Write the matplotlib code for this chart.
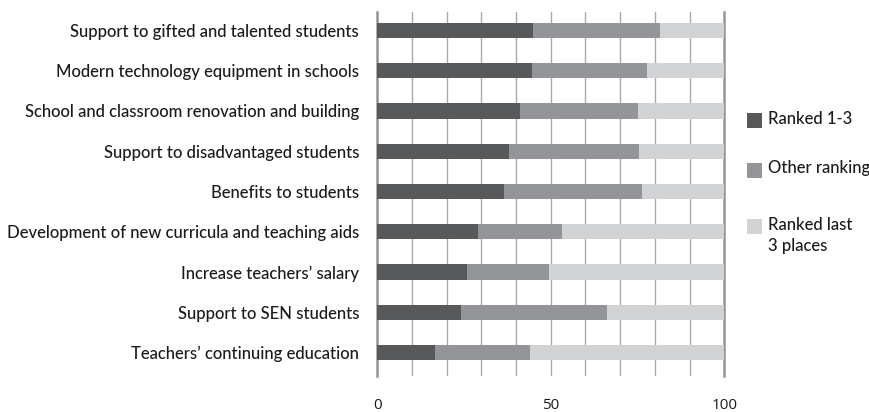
import matplotlib
matplotlib.use("Agg")
import matplotlib.pyplot as plt
from matplotlib.patches import Rectangle

# Share of respondents per ranking group, by spending priority
categories = [
    "Support to gifted and talented students",
    "Modern technology equipment in schools",
    "School and classroom renovation and building",
    "Support to disadvantaged students",
    "Benefits to students",
    "Development of new curricula and teaching aids",
    "Increase teachers\u2019 salary",
    "Support to SEN students",
    "Teachers\u2019 continuing education",
]
ranked_top = [45.0, 44.7, 41.1, 38.0, 36.5, 29.1, 25.8, 24.0, 16.6]
other_ranking = [36.5, 32.9, 34.1, 37.4, 39.7, 24.2, 23.7, 42.1, 27.4]
ranked_last = [18.5, 22.4, 24.8, 24.6, 23.8, 46.7, 50.5, 33.9, 56.0]

series_names = ["Ranked 1-3", "Other ranking", "Ranked last\n3 places"]
series_colors = ["#58595b", "#939598", "#d1d3d4"]
x_ticks = [0, 50, 100]

W, H = 870, 412
LABEL_FONT = ["Lato", "DejaVu Sans"]
LABEL_SIZE = 12
TICK_FONT = ["Open Sans", "DejaVu Sans"]
TEXT_COLOR = "#1c1a1b"

fig = plt.figure(figsize=(W / 100, H / 100), dpi=100)
ax = fig.add_axes([377.3 / W, 1 - 376 / H, (724.3 - 377.3) / W, (376 - 11.7) / H])

n = len(categories)
ypos = [n - 1 - i for i in range(n)]
bar_h = 0.373

left = [0.0] * n
for vals, color in zip([ranked_top, other_ranking, ranked_last], series_colors):
    ax.barh(ypos, vals, left=left, height=bar_h, color=color, edgecolor="none", zorder=3)
    left = [l + v for l, v in zip(left, vals)]

ax.set_xlim(0, 100)
ax.set_ylim(-0.584, n - 1 + 0.467)

# vertical grid every 10 units, behind the bars
for gx in range(10, 100, 10):
    ax.axvline(gx, color="#a7a9ac", lw=1.0, zorder=1)

for side in ["top", "bottom"]:
    ax.spines[side].set_visible(False)
for side in ["left", "right"]:
    ax.spines[side].set_color("#939598")
    ax.spines[side].set_linewidth(1.8)

ax.set_yticks(ypos)
ax.set_yticklabels(categories, family=LABEL_FONT, fontsize=LABEL_SIZE,
                   fontweight="medium", color=TEXT_COLOR)
ax.set_xticks(x_ticks)
ax.set_xticklabels([str(t) for t in x_ticks], family=TICK_FONT, fontsize=11, color=TEXT_COLOR)
ax.tick_params(axis="y", length=0, pad=13)
ax.tick_params(axis="x", length=0, pad=16)

# legend drawn as squares with labels to the right of the plot
leg_centers = [120.5, 170.5, 226.5]
sq = 15
for name, color, cy in zip(series_names, series_colors, leg_centers):
    fig.add_artist(Rectangle((746.7 / W, 1 - (cy + sq / 2) / H), sq / W, sq / H,
                             transform=fig.transFigure, facecolor=color, edgecolor="none"))
    if "\n" in name:
        fig.text(768 / W, 1 - (cy - 10) / H, name, family=LABEL_FONT, fontsize=LABEL_SIZE,
                 fontweight="medium", color=TEXT_COLOR, ha="left", va="top",
                 linespacing=1.4)
    else:
        fig.text(768 / W, 1 - (cy - 2) / H, name, family=LABEL_FONT, fontsize=LABEL_SIZE,
                 fontweight="medium", color=TEXT_COLOR, ha="left", va="center")

fig.savefig("out.png", dpi=100)
